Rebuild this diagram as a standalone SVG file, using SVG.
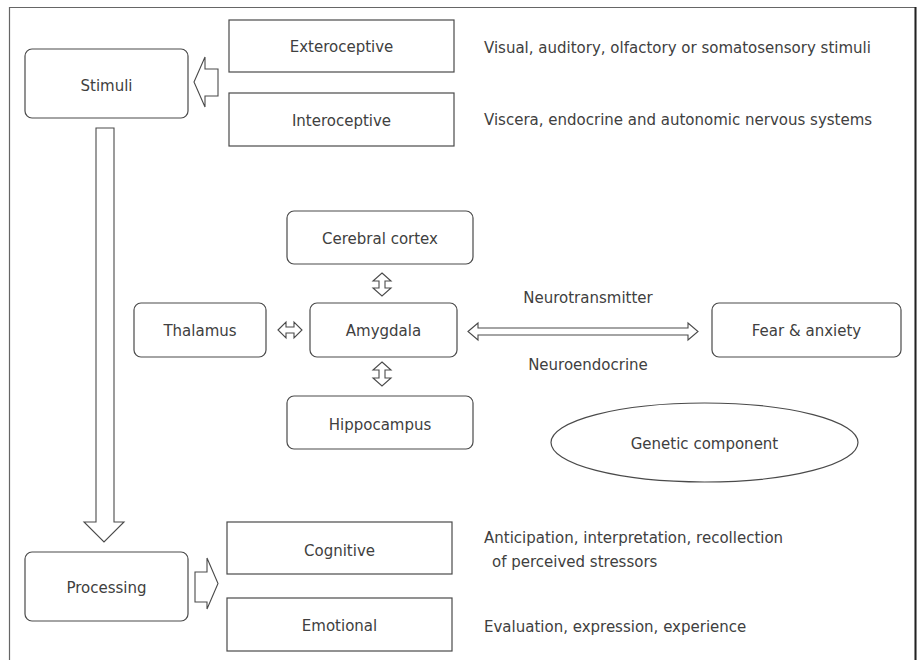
<svg xmlns="http://www.w3.org/2000/svg" width="917" height="660" viewBox="0 0 917 660">
<style>
.box{fill:#fff;stroke:#4a4a4a;stroke-width:1.2}
.arr{fill:#fff;stroke:#4a4a4a;stroke-width:1.1;stroke-linejoin:miter}
text{font-family:"DejaVu Sans","Liberation Sans",sans-serif;font-size:15px;fill:#404040}
.c{text-anchor:middle}
</style>
<rect width="917" height="660" fill="#fff"/>
<g id="frame">
<path d="M9.5 660 V7.5 H915.5 V660" fill="none" stroke="#666" stroke-width="1.2"/>
<line x1="915.5" y1="7" x2="915.5" y2="660" stroke="#222" stroke-width="2"/>
</g>
<g id="stimuli"><rect class="box" x="25" y="49" width="163" height="69" rx="7"/><text class="c" x="106.5" y="91">Stimuli</text></g>
<g id="exteroceptive"><rect class="box" x="229" y="20" width="225" height="52"/><text class="c" x="341.5" y="52">Exteroceptive</text></g>
<g id="interoceptive"><rect class="box" x="229" y="93" width="225" height="53"/><text class="c" x="341.5" y="126">Interoceptive</text></g>
<g id="cortex"><rect class="box" x="287" y="211" width="186" height="53" rx="7"/><text class="c" x="380" y="244">Cerebral cortex</text></g>
<g id="thalamus"><rect class="box" x="134" y="303" width="132" height="54" rx="7"/><text class="c" x="200" y="336">Thalamus</text></g>
<g id="amygdala"><rect class="box" x="310" y="303" width="147" height="54" rx="7"/><text class="c" x="383.5" y="336">Amygdala</text></g>
<g id="hippocampus"><rect class="box" x="287" y="396" width="186" height="53" rx="7"/><text class="c" x="380" y="430">Hippocampus</text></g>
<g id="fear"><rect class="box" x="712" y="303" width="189" height="54" rx="7"/><text class="c" x="806.5" y="336">Fear &amp; anxiety</text></g>
<g id="genetic"><ellipse class="box" cx="704.5" cy="442.5" rx="153.5" ry="39.5"/><text class="c" x="704.5" y="449">Genetic component</text></g>
<g id="processing"><rect class="box" x="25" y="552" width="163" height="69" rx="7"/><text class="c" x="106.5" y="593">Processing</text></g>
<g id="cognitive"><rect class="box" x="227" y="522" width="225" height="52"/><text class="c" x="339.5" y="556">Cognitive</text></g>
<g id="emotional"><rect class="box" x="227" y="598" width="225" height="53"/><text class="c" x="339.5" y="631">Emotional</text></g>
<g id="labels">
<text x="484" y="53">Visual, auditory, olfactory or somatosensory stimuli</text>
<text x="484" y="125">Viscera, endocrine and autonomic nervous systems</text>
<text class="c" x="588" y="303">Neurotransmitter</text>
<text class="c" x="588" y="370">Neuroendocrine</text>
<text x="484" y="543">Anticipation, interpretation, recollection</text>
<text x="492" y="567">of perceived stressors</text>
<text x="484" y="632">Evaluation, expression, experience</text>
</g>
<g id="connectors">
<polygon class="arr" points="194,82 205,57 205,69 218,69 218,96 205,96 205,107"/>
<polygon class="arr" points="96,128 114,128 114,522 124,522 104,542 84,522 96,522"/>
<polygon class="arr" points="195,572 207,572 207,558 218,583.5 207,609 207,602 195,602"/>
<polygon class="arr" points="382,273 391,281 385,281 385,288 391,288 382,296 373,288 379,288 379,281 373,281"/>
<polygon class="arr" points="382,362 391,370 385,370 385,378 391,378 382,386 373,378 379,378 379,370 373,370"/>
<polygon class="arr" points="278,330 286,322 286,327 294,327 294,322 302,330 294,338 294,333 286,333 286,338"/>
<polygon class="arr" points="468,331.5 478,323 478,328 688,328 688,323 698,331.5 688,340 688,335 478,335 478,340"/>
</g>
</svg>
